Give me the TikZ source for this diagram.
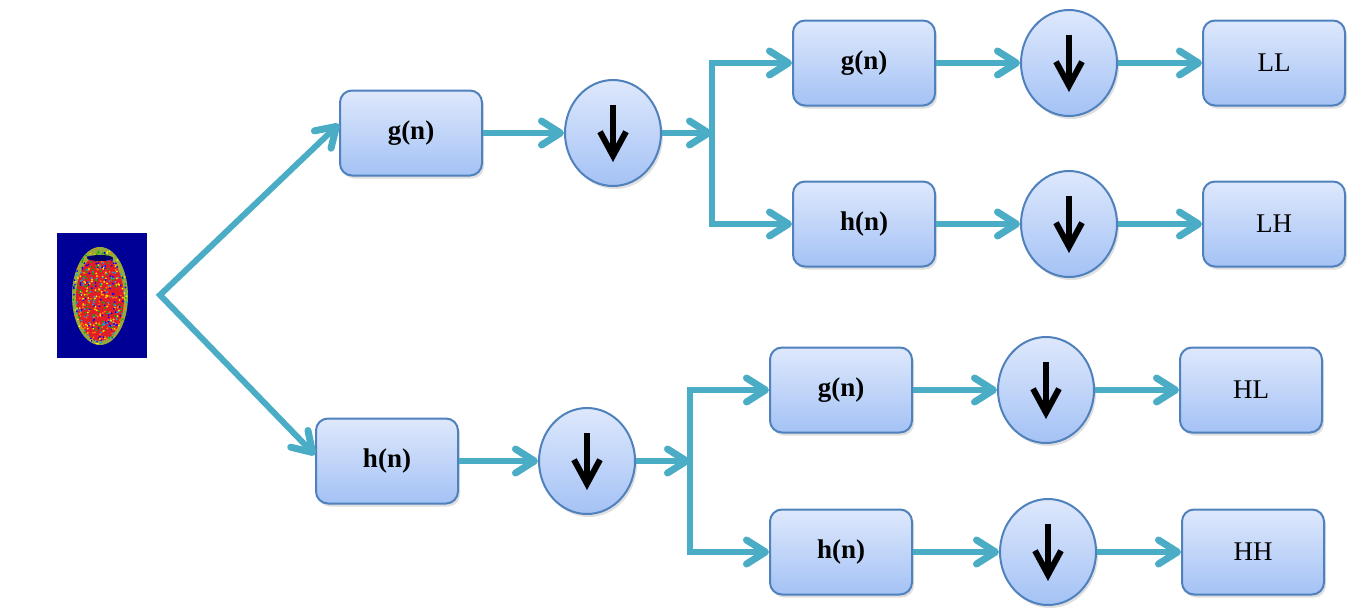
\documentclass[tikz,border=0pt]{standalone}
\usepackage{fontspec}
\setmainfont{Liberation Serif}
\usetikzlibrary{arrows.meta,shapes.geometric,shadows}
\definecolor{flowcol}{RGB}{75,172,198}
\definecolor{edgecol}{RGB}{79,129,189}
\definecolor{boxtop}{RGB}{222,232,252}
\definecolor{boxbot}{RGB}{164,194,245}
\definecolor{scanblue}{RGB}{0,0,150}
\definecolor{scanred}{RGB}{225,30,40}
\definecolor{scanrim}{RGB}{150,170,60}

\begin{document}
\begin{tikzpicture}[x=1pt,y=-1pt]
\tikzset{>={Straight Barb[length=19pt,width=24pt,line width=1pt 1,round]}}
\tikzset{flow/.style={->,line width=6pt,draw=flowcol}}
\tikzset{filt/.style={draw=edgecol,line width=2pt,rounded corners=12pt,top color=boxtop,bottom color=boxbot,
  minimum width=142pt,minimum height=85pt,inner sep=0pt,font=\fontsize{27}{32}\selectfont\bfseries,
  drop shadow={opacity=0.25,shadow xshift=2pt,shadow yshift=-3pt}}}
\tikzset{band/.style={filt,font=\fontsize{27}{32}\selectfont}}
\tikzset{decim/.style={shape=ellipse,draw=edgecol,line width=2pt,top color=boxtop,bottom color=boxbot,
  minimum width=96pt,minimum height=106pt,inner sep=0pt,
  drop shadow={opacity=0.25,shadow xshift=2pt,shadow yshift=-3pt}}}
\tikzset{darrow/.style={line width=6pt,-{Straight Barb[length=24pt,width=26pt]}}}

\useasboundingbox (0,0) rectangle (1354,608);

% scan
\fill[scanblue] (57,233) rectangle (147,358);
\fill[scanrim] (100,296) ellipse [x radius=28, y radius=49];
\fill[scanred] (100,298) ellipse [x radius=24, y radius=43];
\pgfmathsetseed{7}
\foreach \i in {1,...,480}{
  \pgfmathsetmacro\ra{360*rnd}
  \pgfmathsetmacro\rr{sqrt(rnd)}
  \pgfmathtruncatemacro\rc{int(5*rnd)}
  \ifcase\rc \def\dotcol{yellow}\or\def\dotcol{cyan}\or\def\dotcol{blue}\or\def\dotcol{green!70!black}\or\def\dotcol{orange}\fi
  \fill[\dotcol] ({100+27*\rr*cos(\ra)},{296+48*\rr*sin(\ra)}) circle (1pt);
}
\fill[scanblue!70!black] (100,258) ellipse [x radius=13, y radius=3];

\node[filt] (g0) at (411,133) {g(n)};
\node[decim] (c0) at (613,133) {};
\coordinate (j0) at (712,133);
\node[filt] (h0) at (387,461) {h(n)};
\node[decim] (c3) at (587,461) {};
\coordinate (j1) at (690,461);

\node[filt] (g1) at (864,63) {g(n)};
\node[decim] (c1) at (1069,63) {};
\node[band] (ll) at (1274,63) {LL};
\node[filt] (h1) at (864,224) {h(n)};
\node[decim] (c2) at (1069,224) {};
\node[band] (lh) at (1274,224) {LH};

\node[filt] (g2) at (841,390) {g(n)};
\node[decim] (c4) at (1046,390) {};
\node[band] (hl) at (1251,390) {HL};
\node[filt] (h2) at (841,552) {h(n)};
\node[decim] (c5) at (1048,552) {};
\node[band] (hh) at (1253,552) {HH};

\coordinate (fork) at (160,295);
\draw[flow,<->] ([yshift=9pt]g0.west) -- (fork) -- ([yshift=6pt]h0.west);

\draw[flow] (g0) -- (c0);
\draw[flow] (c0) -- (j0);
\draw[flow,<->] (g1) -| (j0) |- (h1);
\draw[flow] (h0) -- (c3);
\draw[flow] (c3) -- (j1);
\draw[flow,<->] (g2) -| (j1) |- (h2);

\draw[flow] (g1) -- (c1);
\draw[flow] (c1) -- (ll);
\draw[flow] (h1) -- (c2);
\draw[flow] (c2) -- (lh);
\draw[flow] (g2) -- (c4);
\draw[flow] (c4) -- (hl);
\draw[flow] (h2) -- (c5);
\draw[flow] (c5) -- (hh);

\foreach \c in {c0,c1,c2,c3,c4,c5}
  \draw[darrow] ([yshift=28pt]\c.center) -- ([yshift=-29pt]\c.center);

\end{tikzpicture}
\end{document}
